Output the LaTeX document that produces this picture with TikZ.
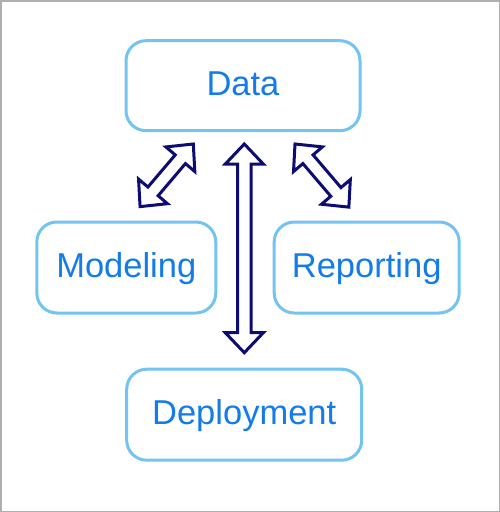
\documentclass[tikz,border=0pt]{standalone}
\usepackage{fontspec}
\setmainfont{Liberation Sans}
\usetikzlibrary{calc}
\definecolor{boxblue}{RGB}{115,196,240}
\definecolor{textblue}{RGB}{20,124,232}
\definecolor{navy}{RGB}{12,12,115}
\definecolor{framegray}{RGB}{175,175,175}
\tikzset{
  stage/.style={draw=boxblue, line width=3pt, rounded corners=20pt, fill=white,
    inner sep=0pt, text=textblue, font=\fontsize{34.5}{40}\selectfont,
    text height=25pt, text depth=6pt},
  blockarrow/.style={draw=navy, line width=3pt, fill=white, line join=miter},
}
\newcommand\dblarrow[2]{%
  \draw[blockarrow] let \p1=(#1), \p2=(#2),
     \n1={atan2(\y2-\y1,\x2-\x1)}, \n2={veclen(\x2-\x1,\y2-\y1)} in
     [shift={(\p1)}, rotate=\n1]
     (0,0) -- (20,19) -- (20,6.7) -- (\n2-20,6.7) -- (\n2-20,19) -- (\n2,0)
     -- (\n2-20,-19) -- (\n2-20,-6.7) -- (20,-6.7) -- (20,-19) -- cycle;}
\begin{document}
\begin{tikzpicture}[x=1pt,y=-1pt]
\useasboundingbox (0,0) rectangle (500,512);
\draw[framegray, line width=1.5pt] (0.75,0.75) rectangle (499.25,511.25);
\node[stage, minimum width=234pt, minimum height=90pt] (data) at (243,85.7) {Data};
\node[stage, minimum width=179pt, minimum height=91pt] (modeling) at (126.3,267.5) {Modeling};
\node[stage, minimum width=185pt, minimum height=91pt] (reporting) at (366.7,267.5) {Reporting};
\node[stage, minimum width=235pt, minimum height=91pt] (deployment) at (244.2,414.7) {Deployment};
\coordinate (vT) at (244.3,144);
\coordinate (vB) at (244.3,352.7);
\coordinate (lT) at (193.3,144);
\coordinate (lB) at (140,206.7);
\coordinate (rT) at (295,144);
\coordinate (rB) at (349,207.3);
\dblarrow{vT}{vB}
\dblarrow{lT}{lB}
\dblarrow{rT}{rB}
\end{tikzpicture}
\end{document}
